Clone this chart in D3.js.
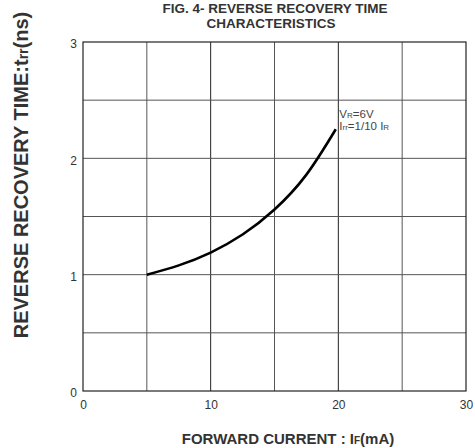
<!DOCTYPE html>
<html>
<head>
<meta charset="utf-8">
<script src="https://cdn.jsdelivr.net/npm/d3@7"></script>
<style>
  body { margin: 0; background: #fff; }
  text { font-family: "Liberation Sans", Arial, sans-serif; }
</style>
</head>
<body>
<script>
// values
const currentMA = [5, 7.5, 10, 12.5, 15, 17.5, 19.8]
const trrNs = [1.0, 1.08, 1.19, 1.345, 1.56, 1.86, 2.25]
const xTicks = [0, 10, 20, 30]
const yTicks = [0, 1, 2, 3]
const xGrid = [5, 10, 15, 20, 25]
const yGrid = [0.5, 1, 1.5, 2, 2.5]

const WIDTH = 475
const HEIGHT = 448
const PLOT_L = 83, PLOT_R = 466, PLOT_T = 42, PLOT_B = 391

const svg = d3.select('body').append('svg')
  .attr('width', WIDTH)
  .attr('height', HEIGHT)

const x = d3.scaleLinear().domain([0, 30]).range([PLOT_L, PLOT_R])
const y = d3.scaleLinear().domain([0, 3]).range([PLOT_B, PLOT_T])

// grid
svg.append('g').selectAll('line')
  .data(xGrid)
  .enter()
  .append('line')
  .attr('x1', d => x(d)).attr('x2', d => x(d))
  .attr('y1', PLOT_T).attr('y2', PLOT_B)
  .attr('stroke', d => d % 10 === 0 ? '#222' : '#555')
  .attr('stroke-width', 1)

svg.append('g').selectAll('line')
  .data(yGrid)
  .enter()
  .append('line')
  .attr('x1', PLOT_L).attr('x2', PLOT_R)
  .attr('y1', d => y(d)).attr('y2', d => y(d))
  .attr('stroke', '#555')
  .attr('stroke-width', 1)

// frame
svg.append('rect')
  .attr('x', PLOT_L).attr('y', PLOT_T)
  .attr('width', PLOT_R - PLOT_L).attr('height', PLOT_B - PLOT_T)
  .attr('fill', 'none')
  .attr('stroke', '#222')
  .attr('stroke-width', 1.2)

// tick labels
const xAxis = svg.append('g')
  .attr('transform', `translate(0, ${PLOT_B})`)
  .call(d3.axisBottom(x).tickValues(xTicks).tickFormat(d3.format('d')).tickSize(0).tickPadding(9))
xAxis.select('.domain').remove()
xAxis.selectAll('text').attr('font-size', 12).attr('fill', '#333')
  .attr('font-family', '"Liberation Sans", Arial, sans-serif')

const yAxis = svg.append('g')
  .attr('transform', `translate(${PLOT_L}, 2)`)
  .call(d3.axisLeft(y).tickValues(yTicks).tickFormat(d3.format('d')).tickSize(0).tickPadding(6))
yAxis.select('.domain').remove()
yAxis.selectAll('text').attr('font-size', 12).attr('fill', '#333')
  .attr('font-family', '"Liberation Sans", Arial, sans-serif')

// curve
const line = d3.line()
  .x(d => x(d[0]))
  .y(d => y(d[1]))
  .curve(d3.curveNatural)

svg.append('path')
  .datum(d3.zip(currentMA, trrNs))
  .attr('d', line)
  .attr('fill', 'none')
  .attr('stroke', '#000')
  .attr('stroke-width', 2.6)

// annotation
const note = svg.append('text')
  .attr('x', x(20) + 1)
  .attr('y', 118)
  .attr('font-size', 11.5)
  .attr('fill', '#444')
note.append('tspan').text('V')
note.append('tspan').attr('font-size', 8).text('R')
note.append('tspan').text('=6V')

const note2 = svg.append('text')
  .attr('x', x(20) + 1)
  .attr('y', 130)
  .attr('font-size', 11.5)
  .attr('fill', '#444')
note2.append('tspan').text('I')
note2.append('tspan').attr('font-size', 8).text('rr')
note2.append('tspan').text('=1/10 I')
note2.append('tspan').attr('font-size', 8).text('R')

// title
svg.append('text')
  .attr('x', 275).attr('y', 13)
  .attr('text-anchor', 'middle')
  .attr('font-size', 13.5).attr('font-weight', 'bold').attr('fill', '#333')
  .text('FIG. 4- REVERSE RECOVERY TIME')
svg.append('text')
  .attr('x', 271).attr('y', 28)
  .attr('text-anchor', 'middle')
  .attr('font-size', 13.5).attr('font-weight', 'bold').attr('fill', '#333')
  .text('CHARACTERISTICS')

// x title
const xt = svg.append('text')
  .attr('x', 288).attr('y', 444)
  .attr('text-anchor', 'middle')
  .attr('font-size', 15).attr('font-weight', 'bold').attr('fill', '#333')
xt.append('tspan').text('FORWARD CURRENT : I')
xt.append('tspan').attr('font-size', 10).text('F')
xt.append('tspan').text('(mA)')

// y title
const yt = svg.append('text')
  .attr('transform', 'translate(28, 175) rotate(-90)')
  .attr('text-anchor', 'middle')
  .attr('font-size', 20).attr('font-weight', 'bold').attr('fill', '#333')
yt.append('tspan').text('REVERSE RECOVERY TIME:t')
yt.append('tspan').attr('font-size', 14).text('rr')
yt.append('tspan').text('(ns)')
</script>
</body>
</html>
